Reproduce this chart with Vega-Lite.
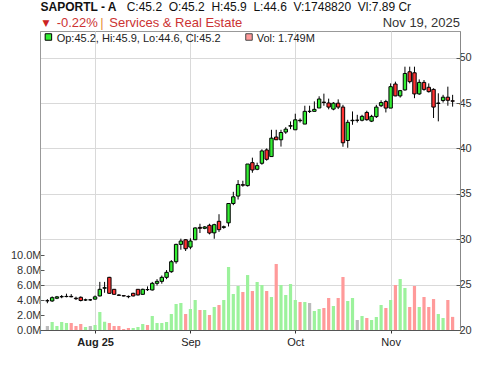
{
"$schema": "https://vega.github.io/schema/vega-lite/v6.json",
"width": 420,
"height": 299,
"autosize": {"type": "none"},
"padding": {"left": 40, "top": 31, "right": 40, "bottom": 36},
"background": "white",
"config": {"font": "Liberation Sans", "view": {"stroke": "#999", "strokeWidth": 1}, "axis": {"labelFont": "Liberation Sans"}},
"data": {"values": [
{"i":0,"o":23.22,"h":23.4,"l":22.95,"c":23.22,"v":530000,"vc":"flat"},
{"i":1,"o":23.2,"h":23.7,"l":23.1,"c":23.56,"v":1070000,"vc":"up"},
{"i":2,"o":23.5,"h":23.75,"l":23.4,"c":23.65,"v":530000,"vc":"up"},
{"i":3,"o":23.66,"h":23.85,"l":23.5,"c":23.68,"v":1070000,"vc":"up"},
{"i":4,"o":23.68,"h":24.0,"l":23.6,"c":23.7,"v":930000,"vc":"up"},
{"i":5,"o":23.7,"h":23.95,"l":23.6,"c":23.66,"v":930000,"vc":"down"},
{"i":6,"o":23.5,"h":23.67,"l":23.3,"c":23.45,"v":530000,"vc":"down"},
{"i":7,"o":23.6,"h":23.7,"l":23.15,"c":23.25,"v":800000,"vc":"down"},
{"i":8,"o":23.3,"h":23.45,"l":23.2,"c":23.32,"v":400000,"vc":"up"},
{"i":9,"o":23.32,"h":23.42,"l":23.2,"c":23.32,"v":530000,"vc":"flat"},
{"i":10,"o":23.4,"h":23.8,"l":23.35,"c":23.65,"v":670000,"vc":"up"},
{"i":11,"o":23.75,"h":25.3,"l":23.7,"c":24.48,"v":2400000,"vc":"up"},
{"i":12,"o":24.6,"h":25.3,"l":24.1,"c":24.66,"v":1100000,"vc":"up"},
{"i":13,"o":25.8,"h":25.85,"l":24.0,"c":24.04,"v":930000,"vc":"down"},
{"i":14,"o":24.48,"h":24.5,"l":23.9,"c":23.93,"v":530000,"vc":"down"},
{"i":15,"o":23.85,"h":23.95,"l":23.75,"c":23.82,"v":530000,"vc":"down"},
{"i":16,"o":23.78,"h":23.85,"l":23.7,"c":23.75,"v":130000,"vc":"down"},
{"i":17,"o":23.7,"h":23.8,"l":23.5,"c":23.67,"v":270000,"vc":"down"},
{"i":18,"o":24.04,"h":24.1,"l":23.7,"c":23.75,"v":270000,"vc":"up"},
{"i":19,"o":24.48,"h":24.5,"l":23.8,"c":23.86,"v":400000,"vc":"up"},
{"i":20,"o":23.93,"h":24.55,"l":23.9,"c":24.48,"v":800000,"vc":"up"},
{"i":21,"o":24.45,"h":24.8,"l":24.3,"c":24.45,"v":670000,"vc":"down"},
{"i":22,"o":24.41,"h":25.3,"l":24.35,"c":25.14,"v":1870000,"vc":"up"},
{"i":23,"o":25.14,"h":25.6,"l":24.9,"c":25.36,"v":930000,"vc":"up"},
{"i":24,"o":25.36,"h":26.0,"l":25.1,"c":25.8,"v":930000,"vc":"up"},
{"i":25,"o":25.8,"h":26.6,"l":25.6,"c":26.35,"v":1070000,"vc":"up"},
{"i":26,"o":26.42,"h":27.7,"l":26.3,"c":27.52,"v":2130000,"vc":"up"},
{"i":27,"o":27.52,"h":29.5,"l":27.3,"c":29.43,"v":3470000,"vc":"up"},
{"i":28,"o":29.43,"h":30.06,"l":28.84,"c":29.8,"v":3600000,"vc":"up"},
{"i":29,"o":29.94,"h":30.0,"l":28.7,"c":28.95,"v":2130000,"vc":"down"},
{"i":30,"o":29.13,"h":30.1,"l":28.9,"c":29.8,"v":2800000,"vc":"up"},
{"i":31,"o":29.94,"h":31.3,"l":29.9,"c":31.24,"v":4000000,"vc":"up"},
{"i":32,"o":31.3,"h":31.7,"l":30.68,"c":31.2,"v":2670000,"vc":"down"},
{"i":33,"o":31.2,"h":31.45,"l":31.1,"c":31.35,"v":2670000,"vc":"up"},
{"i":34,"o":31.53,"h":31.7,"l":30.53,"c":30.68,"v":2000000,"vc":"down"},
{"i":35,"o":30.7,"h":31.7,"l":30.05,"c":31.6,"v":3070000,"vc":"up"},
{"i":36,"o":31.97,"h":32.75,"l":30.8,"c":31.05,"v":3330000,"vc":"down"},
{"i":37,"o":31.3,"h":31.5,"l":31.15,"c":31.37,"v":4000000,"vc":"up"},
{"i":38,"o":31.8,"h":33.93,"l":31.4,"c":33.93,"v":8400000,"vc":"up"},
{"i":39,"o":33.93,"h":35.22,"l":33.75,"c":34.67,"v":4800000,"vc":"up"},
{"i":40,"o":34.75,"h":36.51,"l":34.37,"c":36.03,"v":5870000,"vc":"up"},
{"i":41,"o":36.0,"h":36.44,"l":35.78,"c":35.95,"v":5070000,"vc":"down"},
{"i":42,"o":35.9,"h":38.28,"l":35.8,"c":38.28,"v":7330000,"vc":"up"},
{"i":43,"o":38.43,"h":38.98,"l":37.32,"c":37.62,"v":5200000,"vc":"down"},
{"i":44,"o":37.7,"h":38.43,"l":37.6,"c":38.1,"v":6400000,"vc":"up"},
{"i":45,"o":38.36,"h":39.9,"l":38.2,"c":39.72,"v":6000000,"vc":"up"},
{"i":46,"o":39.83,"h":40.0,"l":38.65,"c":38.8,"v":5200000,"vc":"down"},
{"i":47,"o":39.1,"h":42.05,"l":39.1,"c":41.13,"v":4400000,"vc":"up"},
{"i":48,"o":41.25,"h":42.05,"l":40.95,"c":40.95,"v":8800000,"vc":"down"},
{"i":49,"o":40.95,"h":42.05,"l":40.2,"c":41.75,"v":6000000,"vc":"up"},
{"i":50,"o":41.8,"h":42.34,"l":41.6,"c":42.12,"v":4670000,"vc":"up"},
{"i":51,"o":42.45,"h":42.97,"l":42.12,"c":42.5,"v":6130000,"vc":"up"},
{"i":52,"o":42.05,"h":43.82,"l":42.05,"c":43.15,"v":4000000,"vc":"up"},
{"i":53,"o":43.1,"h":43.3,"l":42.85,"c":43.05,"v":3730000,"vc":"down"},
{"i":54,"o":42.68,"h":44.7,"l":42.68,"c":44.08,"v":3730000,"vc":"up"},
{"i":55,"o":44.08,"h":44.7,"l":43.9,"c":44.08,"v":3600000,"vc":"flat"},
{"i":56,"o":44.08,"h":45.18,"l":44.08,"c":44.3,"v":2530000,"vc":"up"},
{"i":57,"o":44.45,"h":45.74,"l":44.45,"c":45.44,"v":2800000,"vc":"up"},
{"i":58,"o":45.1,"h":46.03,"l":44.7,"c":45.05,"v":2930000,"vc":"down"},
{"i":59,"o":45.0,"h":45.48,"l":44.3,"c":44.55,"v":4270000,"vc":"down"},
{"i":60,"o":44.33,"h":45.1,"l":44.2,"c":44.98,"v":3200000,"vc":"up"},
{"i":61,"o":44.98,"h":45.4,"l":44.33,"c":44.55,"v":4270000,"vc":"down"},
{"i":62,"o":44.55,"h":44.8,"l":40.18,"c":40.62,"v":7070000,"vc":"down"},
{"i":63,"o":40.87,"h":43.15,"l":40.07,"c":42.87,"v":3870000,"vc":"up"},
{"i":64,"o":43.05,"h":44.07,"l":42.6,"c":43.1,"v":4270000,"vc":"up"},
{"i":65,"o":43.1,"h":43.7,"l":42.85,"c":43.1,"v":1330000,"vc":"flat"},
{"i":66,"o":43.1,"h":43.7,"l":42.98,"c":43.53,"v":1870000,"vc":"up"},
{"i":67,"o":43.96,"h":44.15,"l":43.05,"c":43.16,"v":1600000,"vc":"down"},
{"i":68,"o":43.0,"h":43.7,"l":42.9,"c":43.53,"v":1330000,"vc":"up"},
{"i":69,"o":43.5,"h":44.8,"l":43.35,"c":44.55,"v":1730000,"vc":"up"},
{"i":70,"o":44.7,"h":45.3,"l":44.55,"c":45.05,"v":3330000,"vc":"up"},
{"i":71,"o":45.16,"h":45.35,"l":43.96,"c":44.44,"v":2930000,"vc":"down"},
{"i":72,"o":44.44,"h":47.16,"l":44.44,"c":46.8,"v":4000000,"vc":"up"},
{"i":73,"o":47.09,"h":47.35,"l":45.75,"c":45.78,"v":6000000,"vc":"down"},
{"i":74,"o":45.78,"h":46.44,"l":45.6,"c":46.36,"v":6800000,"vc":"up"},
{"i":75,"o":46.44,"h":49.0,"l":46.36,"c":48.25,"v":5600000,"vc":"up"},
{"i":76,"o":48.44,"h":49.0,"l":47.16,"c":47.35,"v":3070000,"vc":"down"},
{"i":77,"o":48.33,"h":49.0,"l":45.53,"c":46.0,"v":5870000,"vc":"down"},
{"i":78,"o":46.0,"h":47.6,"l":45.9,"c":47.27,"v":3070000,"vc":"up"},
{"i":79,"o":47.27,"h":47.53,"l":46.35,"c":46.5,"v":4400000,"vc":"down"},
{"i":80,"o":46.73,"h":47.16,"l":46.15,"c":46.25,"v":3070000,"vc":"down"},
{"i":81,"o":46.5,"h":46.62,"l":43.35,"c":44.55,"v":4130000,"vc":"down"},
{"i":82,"o":44.95,"h":46.07,"l":42.98,"c":45.0,"v":2130000,"vc":"up"},
{"i":83,"o":45.27,"h":45.9,"l":45.05,"c":45.64,"v":1600000,"vc":"up"},
{"i":84,"o":45.64,"h":46.8,"l":44.7,"c":45.3,"v":4000000,"vc":"down"},
{"i":85,"o":45.24,"h":45.9,"l":44.6,"c":45.2,"v":1748820,"vc":"down"}
]},
"encoding": {
  "x": {"field": "i", "type": "quantitative",
    "scale": {"domain": [-0.5, 85.5], "nice": false, "zero": false},
    "axis": {"values": [10, 30, 52, 72],
      "labelExpr": "datum.value == 10 ? 'Aug 25' : datum.value == 30 ? 'Sep' : datum.value == 52 ? 'Oct' : 'Nov'",
      "labelFontWeight": {"condition": {"test": "datum.value == 10", "value": "bold"}, "value": "normal"},
      "grid": true, "gridColor": "#d9d9d9", "domainColor": "#555", "tickColor": "#333", "tickSize": 3,
      "labelFontSize": 11, "labelColor": "#222", "labelPadding": 3, "title": null}}
},
"layer": [
  {"mark": {"type": "bar", "orient": "vertical", "width": 3.2},
   "encoding": {
     "y": {"field": "v", "type": "quantitative", "scale": {"domain": [0, 39870000], "nice": false, "zero": true},
       "axis": {"orient": "left", "values": [0, 2000000, 4000000, 6000000, 8000000, 10000000],
         "labelExpr": "format(datum.value / 1000000, '.1f') + 'M'", "grid": false, "tickSize": -4, "tickColor": "#555",
         "domainColor": "#999", "labelFontSize": 11, "labelColor": "#333", "labelPadding": 3, "title": null}},
     "color": {"field": "vc", "type": "nominal", "scale": {"domain": ["up", "down", "flat"], "range": ["#9cf29c", "#ff9a9a", "#bbbbbb"]}, "legend": null}
   }},
  {"layer": [
    {"data": {"values": [{}]},
     "mark": {"type": "rect", "fill": "#cccccc", "opacity": 0.5},
     "encoding": {
       "x": {"datum": -0.5, "type": "quantitative"},
       "x2": {"datum": 85.5},
       "y": {"datum": 52.93, "type": "quantitative", "scale": {"domain": [20, 52.93], "nice": false, "zero": false},
         "axis": {"orient": "right", "values": [20, 25, 30, 35, 40, 45, 50], "grid": true, "gridColor": "#d9d9d9", "tickSize": -4, "tickColor": "#555", "domainColor": "#888", "labelFontSize": 11, "labelColor": "#333", "labelPadding": 3, "title": null}},
       "y2": {"datum": 51.39}
     }},
    {"mark": {"type": "rule", "color": "#000", "strokeWidth": 1},
     "encoding": {
       "y": {"field": "l", "type": "quantitative", "scale": {"domain": [20, 52.93], "nice": false, "zero": false},
         "axis": {"orient": "right", "values": [20, 25, 30, 35, 40, 45, 50], "grid": true, "gridColor": "#d9d9d9", "tickSize": -4, "tickColor": "#555", "domainColor": "#888", "labelFontSize": 11, "labelColor": "#333", "labelPadding": 3, "title": null}},
       "y2": {"field": "h"}
     }},
    {"mark": {"type": "bar", "orient": "vertical", "width": 3.4, "stroke": "#000", "strokeWidth": 1},
     "encoding": {
       "y": {"field": "o", "type": "quantitative", "scale": {"domain": [20, 52.93], "nice": false, "zero": false},
         "axis": {"orient": "right", "values": [20, 25, 30, 35, 40, 45, 50], "grid": true, "gridColor": "#d9d9d9", "tickSize": -4, "tickColor": "#555", "domainColor": "#888", "labelFontSize": 11, "labelColor": "#333", "labelPadding": 3, "title": null}},
       "y2": {"field": "c"},
       "fill": {"condition": {"test": "datum.c >= datum.o", "value": "#33ee33"}, "value": "#ff3333"}
     }}
  ]},
  {"data": {"values": [{}]}, "mark": {"type": "text", "text": "SAPORTL - A", "fontWeight": "bold", "fontSize": 12, "align": "left", "baseline": "alphabetic", "color": "#111"}, "encoding": {"x": {"value": 0.5}, "y": {"value": -20.5}}},
  {"data": {"values": [{}]}, "mark": {"type": "text", "text": "C:45.2\u00a0\u00a0O:45.2\u00a0\u00a0H:45.9\u00a0\u00a0L:44.6\u00a0\u00a0V:1748820\u00a0\u00a0Vl:7.89 Cr", "fontSize": 12, "align": "left", "baseline": "alphabetic", "color": "#111"}, "encoding": {"x": {"value": 86.7}, "y": {"value": -20.5}}},
  {"data": {"values": [{}]}, "mark": {"type": "text", "text": "▼", "font": "DejaVu Sans", "fontSize": 9, "align": "left", "baseline": "alphabetic", "color": "#cc2222"}, "encoding": {"x": {"value": 2.5}, "y": {"value": -5.5}}},
  {"data": {"values": [{}]}, "mark": {"type": "text", "text": "-0.22%", "fontSize": 13, "align": "left", "baseline": "alphabetic", "color": "#cc3333"}, "encoding": {"x": {"value": 16.7}, "y": {"value": -4.5}}},
  {"data": {"values": [{}]}, "mark": {"type": "text", "text": "|", "fontSize": 13, "align": "left", "baseline": "alphabetic", "color": "#e69138"}, "encoding": {"x": {"value": 60.2}, "y": {"value": -4.5}}},
  {"data": {"values": [{}]}, "mark": {"type": "text", "text": "Services & Real Estate", "fontSize": 13, "align": "left", "baseline": "alphabetic", "color": "#cc3333"}, "encoding": {"x": {"value": 69.3}, "y": {"value": -4.5}}},
  {"data": {"values": [{}]}, "mark": {"type": "text", "text": "Nov 19, 2025", "fontSize": 13, "align": "right", "baseline": "alphabetic", "color": "#333"}, "encoding": {"x": {"value": 420}, "y": {"value": -4.3}}},
  {"data": {"values": [{}]}, "mark": {"type": "point", "shape": "square", "size": 42, "filled": true, "fill": "#33ee33", "stroke": "#000", "strokeWidth": 1, "opacity": 1}, "encoding": {"x": {"value": 8.4}, "y": {"value": 6}}},
  {"data": {"values": [{}]}, "mark": {"type": "point", "shape": "square", "size": 42, "filled": true, "fill": "#ff9a9a", "stroke": "#444", "strokeWidth": 1, "opacity": 1}, "encoding": {"x": {"value": 209}, "y": {"value": 6}}},
  {"data": {"values": [{}]}, "mark": {"type": "text", "text": "Op:45.2, Hi:45.9, Lo:44.6, Cl:45.2", "fontSize": 11, "align": "left", "baseline": "alphabetic", "color": "#222"}, "encoding": {"x": {"value": 16.7}, "y": {"value": 10.5}}},
  {"data": {"values": [{}]}, "mark": {"type": "text", "text": "Vol: 1.749M", "fontSize": 11, "align": "left", "baseline": "alphabetic", "color": "#222"}, "encoding": {"x": {"value": 216.7}, "y": {"value": 10.5}}}
],
"resolve": {"scale": {"y": "independent"}}
}
